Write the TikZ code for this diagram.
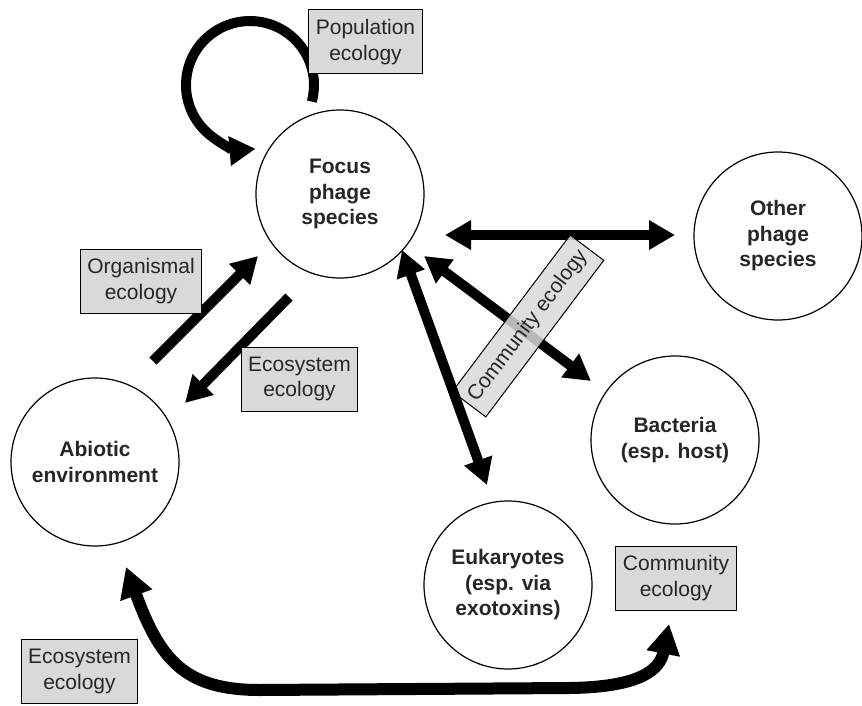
\documentclass[tikz,border=0pt]{standalone}
\usepackage{fontspec}
\setmainfont{Liberation Sans}
\usetikzlibrary{arrows.meta}
\begin{document}
\begin{tikzpicture}[x=1pt,y=-1pt,
  every node/.style={font=\fontsize{21}{25.5}\selectfont, text=black!85},
  taxon/.style={circle, draw=black, line width=1.2pt, minimum size=168pt,
    inner sep=0pt, align=center, font=\fontsize{21}{25.5}\selectfont\bfseries},
  ecolabel/.style={rectangle, draw=black, line width=1pt, fill=gray!30,
    align=center, inner xsep=7pt, minimum height=64pt},
  tip/.style={Triangle[length=26pt,width=28pt]},
  bigtip/.style={Triangle[length=30pt,width=32pt]},
  fat/.style={line width=10pt, -{Triangle[length=26pt,width=28pt]}},
  fatboth/.style={line width=10pt,
    {Triangle[length=26pt,width=28pt]}-{Triangle[length=26pt,width=28pt]}},
]
\useasboundingbox (0,0) rectangle (862,706);

% organisms and environment
\node[taxon] (focus) at (340,194) {Focus\\phage\\species};
\node[taxon] (other) at (778,236) {Other\\phage\\species};
\node[taxon] (bact)  at (675,440) {Bacteria\\(esp. host)};
\node[taxon] (abio)  at (95,462)  {Abiotic\\environment};
\node[taxon] (euk)   at (508,585) {Eukaryotes\\(esp. via\\exotoxins)};

% arrow end points
\coordinate (hL) at (445,235);
\coordinate (hR) at (675,235);
\coordinate (fbA) at (424,256);
\coordinate (fbB) at (591,381);
\coordinate (feA) at (402,250);
\coordinate (feB) at (487,485);
\coordinate (orgA) at (153,361);
\coordinate (orgB) at (258,256);
\coordinate (ecoA) at (289,297);
\coordinate (ecoB) at (185,403);
\coordinate (loopS) at (311.8,101.6);
\coordinate (botL) at (126,567);
\coordinate (botR) at (669,624);

% interactions
\draw[fatboth] (hL) -- (hR);
\draw[fatboth] (fbA) -- (fbB);
\draw[fat] (orgA) -- (orgB);
\draw[fat] (ecoA) -- (ecoB);
\draw[line width=10pt, -{Triangle[length=26pt,width=28pt]}]
  (loopS) arc[start angle=15, end angle=-275, radius=64];
\draw[line width=12pt, {Triangle[length=30pt,width=32pt]}-{Triangle[length=30pt,width=32pt]}]
  (botL) .. controls (160,660) and (185,690) .. (260,690)
  -- (570,688) .. controls (640,687) and (660,670) .. (botR);

% labels
\node[ecolabel] (pop)  at (365.5,42)  {Population\\ecology};
\node[ecolabel] (org)  at (141,281)   {Organismal\\ecology};
\node[ecolabel] (ecoM) at (299.5,379) {Ecosystem\\ecology};
\node[ecolabel] (ecoB2) at (79.5,671.5) {Ecosystem\\ecology};
\node[ecolabel] (comB) at (676,578)   {Community\\ecology};
\node[rectangle, draw=black, line width=1pt, fill=gray!30, fill opacity=0.85,
  text opacity=1, minimum width=196pt, minimum height=42pt, inner sep=0pt,
  rotate=53] (comR) at (528,326) {Community ecology};

\draw[fatboth] (feA) -- (feB);
\end{tikzpicture}
\end{document}
